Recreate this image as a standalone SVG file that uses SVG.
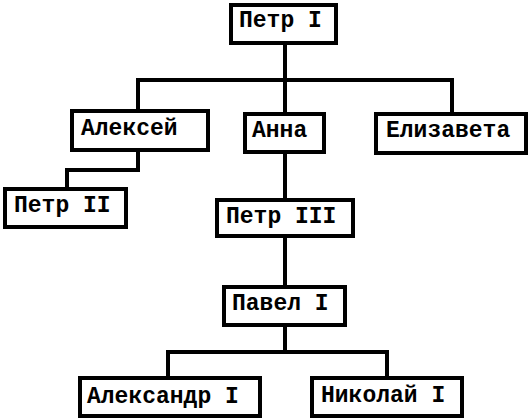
<svg xmlns="http://www.w3.org/2000/svg" width="529" height="418" viewBox="0 0 529 418">
<style>
.box{fill:#fff;stroke:#000;stroke-width:4}
.lbl{font-family:"Liberation Mono","DejaVu Sans Mono",monospace;font-weight:bold;font-size:23px;fill:#000}
.con{fill:none;stroke:#000;stroke-width:4;stroke-linecap:square}
</style>
<rect width="529" height="418" fill="#fff"/>
<g id="connectors">
<path class="con" d="M285 45V80M138 80H452M138 80V109M285 80V112M452 80V112"/>
<path class="con" d="M138 152V170H67V187"/>
<path class="con" d="M285 154V198M285 238V285"/>
<path class="con" d="M285 327V352M168 352H387M168 352V376M387 352V376"/>
</g>
<g id="petr1"><rect class="box" x="231" y="5" width="105" height="38"/><text class="lbl" x="239" y="27">Петр I</text></g>
<g id="aleksey"><rect class="box" x="72" y="111" width="136" height="39"/><text class="lbl" x="81" y="135">Алексей</text></g>
<g id="anna"><rect class="box" x="245" y="114" width="79" height="38"/><text class="lbl" x="252" y="137">Анна</text></g>
<g id="elizaveta"><rect class="box" x="376" y="114" width="150" height="39"/><text class="lbl" x="386" y="137">Елизавета</text></g>
<g id="petr2"><rect class="box" x="5" y="189" width="121" height="38"/><text class="lbl" x="14" y="212">Петр II</text></g>
<g id="petr3"><rect class="box" x="217" y="200" width="136" height="36"/><text class="lbl" x="226" y="223">Петр III</text></g>
<g id="pavel1"><rect class="box" x="224" y="287" width="121" height="38"/><text class="lbl" x="232" y="310">Павел I</text></g>
<g id="aleksandr1"><rect class="box" x="80" y="378" width="180" height="38"/><text class="lbl" x="87" y="403">Александр I</text></g>
<g id="nikolay1"><rect class="box" x="312" y="378" width="150" height="38"/><text class="lbl" x="321" y="402">Николай I</text></g>
</svg>
